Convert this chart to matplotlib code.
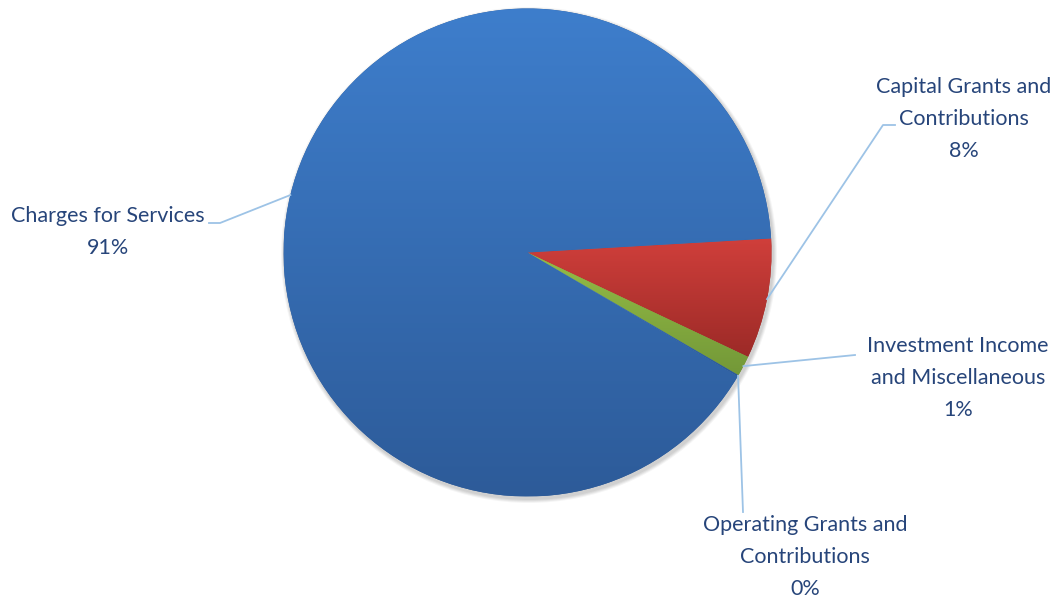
import numpy as np
import matplotlib.pyplot as plt
from matplotlib.colors import LinearSegmentedColormap
from matplotlib.patches import Circle

# DADOS
categories = ["Capital Grants and\nContributions",
              "Investment Income\nand Miscellaneous",
              "Operating Grants and\nContributions",
              "Charges for Services"]
values = [7.95, 1.35, 0.1, 90.6]

# cores (topo, base) para o gradiente de cada fatia
grad_colors = [("#d03f3b", "#9c2a27"),
               ("#95bd46", "#739838"),
               ("#3d7ccb", "#2d5b99"),
               ("#3e7ecc", "#2d5b99")]

# LAYOUT (pixels da figura, y para cima)
W, H = 1063, 598
fig = plt.figure(figsize=(W / 100, H / 100), dpi=100)
ax = fig.add_axes([0, 0, 1, 1])

cx, cy, r = 527.5, 345.5, 244

# sombra suave
for k, a in enumerate([0.05, 0.05, 0.05, 0.04]):
    ax.add_patch(Circle((cx + 1.5, cy - 2.5), r + 1 + k, color='black', alpha=a, lw=0, zorder=0))

wedges, _ = ax.pie(values, startangle=3.3, counterclock=False, center=(cx, cy), radius=r,
                   frame=True, colors=[c[1] for c in grad_colors], wedgeprops=dict(lw=0))
ax.set_xlim(0, W)
ax.set_ylim(0, H)
ax.set_aspect('equal')
ax.axis('off')

# gradiente vertical em cada fatia
grad = np.linspace(0, 1, 256).reshape(-1, 1)
for w, (top, bot) in zip(wedges, grad_colors):
    w.set_zorder(1)
    bb = w.get_path().get_extents()
    cmap = LinearSegmentedColormap.from_list('g', [bot, top])
    im = ax.imshow(grad, cmap=cmap, origin='lower', aspect='auto',
                   extent=[bb.x0, bb.x1, bb.y0, bb.y1], zorder=2, interpolation='bilinear')
    im.set_clip_path(w)
ax.set_xlim(0, W)
ax.set_ylim(0, H)

# RÓTULOS
txt_color = '#27457a'
line_color = '#9dc3e6'
pct = [v / sum(values) * 100 for v in values]
label_pos = [(964, H - 119), (958, H - 378), (805, H - 557), (108, H - 232)]
elbows = [[(883, H - 125), (895, H - 125)],
          [(855, H - 355)],
          [(743, H - 512)],
          [(220, H - 223), (209, H - 223)]]

for w, cat, p, pos, el in zip(wedges, categories, pct, label_pos, elbows):
    ang = np.deg2rad((w.theta1 + w.theta2) / 2)
    sx, sy = cx + r * np.cos(ang), cy + r * np.sin(ang)
    xs = [sx] + [e[0] for e in el]
    ys = [sy] + [e[1] for e in el]
    ax.plot(xs, ys, color=line_color, lw=1.3, zorder=3)
    ax.text(pos[0], pos[1], f"{cat}\n{p:.0f}%", ha='center', va='center', color=txt_color,
            fontsize=15.5, family='Lato', linespacing=1.75, zorder=4)

fig.savefig('out.png', dpi=100)
